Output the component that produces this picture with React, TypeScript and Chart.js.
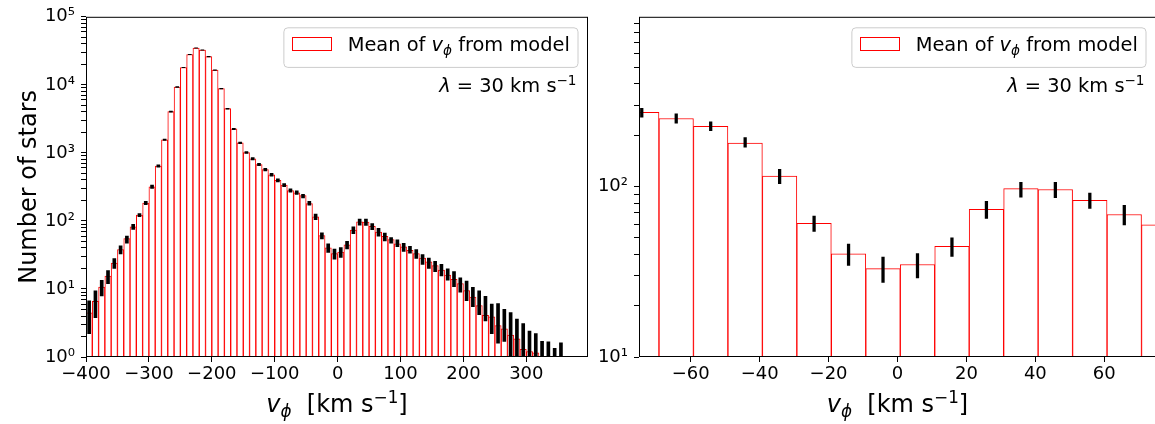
import React, { useEffect, useRef } from 'react';
import { Chart, registerables } from 'chart.js';

Chart.register(...registerables);

// ---------------- Left panel data ----------------
const leftBinCentres = [
  -395, -385, -375, -365, -355, -345, -335, -325, -315, -305,
  -295, -285, -275, -265, -255, -245, -235, -225, -215, -205,
  -195, -185, -175, -165, -155, -145, -135, -125, -115, -105,
  -95, -85, -75, -65, -55, -45, -35, -25, -15, -5,
  5, 15, 25, 35, 45, 55, 65, 75, 85, 95,
  105, 115, 125, 135, 145, 155, 165, 175, 185, 195,
  205, 215, 225, 235, 245, 255, 265, 275, 285, 295,
  305, 315, 325, 335, 345, 355,
];

// model histogram ("Mean of v_phi from model"), bins -400..320
const leftModel = [
  4.45, 6.6, 10.7, 15.5, 24, 38, 55, 82, 122, 183,
  318, 640, 1560, 4050, 9300, 18000, 27900, 34700, 32400, 26000,
  16500, 8800, 4470, 2250, 1400, 1010, 820, 675, 570, 477,
  395, 335, 280, 258, 235, 180, 115, 61, 40.3, 33,
  34.9, 44.6, 73.6, 97.2, 96.1, 83, 68.5, 59.6, 53, 46,
  41.5, 37, 33, 28.5, 25, 22, 19, 16, 13.8, 12,
  9.5, 7.6, 5.7, 4.1, 3.9, 2.9, 2.6, 2.1, 1.85, 1.3,
  1.2, 1.15,
];

// observed counts: lower / upper end of the error bars
const leftObsLow = [
  2.2, 3.8, 7.9, 12, 20, 32.6, 47, 75, 115, 173,
  300, 615, 1520, 3980, 9200, 17850, 27700, 34500, 32200, 25800,
  16350, 8700, 4400, 2200, 1360, 980, 790, 650, 545, 455,
  375, 318, 265, 245, 218, 170, 104, 54.5, 34.5, 27.4,
  29.1, 38.9, 65, 86.7, 86, 74.3, 59.6, 51, 47, 42,
  35.6, 33.7, 28, 23, 20, 17.9, 15.5, 13.5, 10.8, 9,
  6.7, 5.5, 4.2, 3.4, 2.2, 1.6, 1.7, 0.5, 0.5, 0.5,
  0.5, 0.5, 0.5, 0.5, 0.5, 0.5,
];
const leftObsHigh = [
  6.7, 9.4, 13.4, 18.7, 27.9, 43, 60, 89, 128, 194,
  335, 665, 1600, 4120, 9400, 18150, 28050, 34900, 32600, 26150,
  16600, 8880, 4530, 2300, 1440, 1045, 850, 700, 595, 500,
  415, 355, 297, 278, 246, 194, 126, 67, 46, 38.5,
  40.4, 50, 81.8, 106, 106, 91.4, 77.6, 66, 57, 52.6,
  47, 42.2, 37.8, 32, 28.5, 25.5, 23, 19.8, 18, 14.6,
  13.1, 10.6, 9.4, 7.8, 6, 6.1, 5, 4.5, 3.6, 3.1,
  2.4, 2.2, 1.7, 1.67, 1.34, 1.61,
];

const leftXTicks = [-400, -300, -200, -100, 0, 100, 200, 300];

// ---------------- Right panel data (zoom) ----------------
const rightBinCentres = [
  -74.2, -64.2, -54.2, -44.2, -34.2, -24.2, -14.2, -4.2,
  5.8, 15.8, 25.8, 35.8, 45.8, 55.8, 65.8, 75.8,
];
const rightModel = [
  272, 250.6, 225.5, 180, 115, 60.8, 40.3, 33,
  34.9, 44.6, 73.6, 97.2, 96.1, 83, 68.5, 59.6,
];
const rightObsLow = [
  255, 235, 213, 170, 104, 54.5, 34.5, 27.4,
  29.1, 38.9, 65, 86.7, 86, 74.3, 59.6,
];
const rightObsHigh = [
  288, 267, 240, 194, 126, 67, 46, 38.5,
  40.4, 50, 81.8, 106, 106, 91.4, 77.6,
];
const rightXTicks = [-60, -40, -20, 0, 20, 40, 60];

// ---------------- text helpers ----------------
type Part = { t: string; s: number; it?: boolean; dy?: number };
const FAMILY = '"DejaVu Sans"';
const TICK_FS = 18;
const LEG_FS = 19.4;
const LAB_FS = 24;

const fontOf = (p: Part) => `${p.it ? 'italic ' : ''}${p.s}px ${FAMILY}`;
function measureParts(ctx: CanvasRenderingContext2D, parts: Part[]) {
  let w = 0;
  for (const p of parts) {
    ctx.font = fontOf(p);
    w += ctx.measureText(p.t).width;
  }
  return w;
}
function drawParts(ctx: CanvasRenderingContext2D, parts: Part[], x: number, y: number) {
  let cx = x;
  ctx.textAlign = 'left';
  ctx.textBaseline = 'alphabetic';
  for (const p of parts) {
    ctx.font = fontOf(p);
    ctx.fillText(p.t, cx, y + (p.dy || 0));
    cx += ctx.measureText(p.t).width;
  }
}

const legendParts: Part[] = [
  { t: 'Mean of ', s: LEG_FS },
  { t: 'v', s: LEG_FS, it: true },
  { t: 'ϕ', s: LEG_FS * 0.7, it: true, dy: 4 },
  { t: ' from model', s: LEG_FS },
];
const lambdaParts: Part[] = [
  { t: 'λ', s: LEG_FS, it: true },
  { t: ' = 30 km s', s: LEG_FS },
  { t: '−1', s: LEG_FS * 0.7, dy: -7 },
];
const xTitleParts: Part[] = [
  { t: 'v', s: LAB_FS, it: true },
  { t: 'ϕ', s: LAB_FS * 0.7, it: true, dy: 5 },
  { t: '  [km s', s: LAB_FS },
  { t: '−1', s: LAB_FS * 0.7, dy: -9 },
  { t: ']', s: LAB_FS },
];

const SUP = ['⁰', '¹', '²', '³', '⁴', '⁵', '⁶'];
function logLabel(v: number) {
  const l = Math.log10(v);
  const r = Math.round(l);
  if (Math.abs(l - r) < 1e-9) return '10' + SUP[r];
  return '';
}
function isNiceLog(v: number) {
  const e = Math.floor(Math.log10(v) + 1e-9);
  const m = v / Math.pow(10, e);
  return Math.abs(m - Math.round(m)) < 1e-6;
}
const fmtX = (v: number) => (v < 0 ? '−' + Math.abs(v) : String(v));

function makeDecor() {
  return {
    id: 'decor',
    afterDraw(chart: any) {
      const { ctx, chartArea: a } = chart;
      ctx.save();
      // frame
      ctx.strokeStyle = 'black';
      ctx.lineWidth = 1;
      ctx.strokeRect(a.left + 0.5, a.top + 0.5, a.right - a.left - 1, a.bottom - a.top - 1);

      // legend box
      const textW = measureParts(ctx, legendParts);
      const boxW = 8.3 + 39.4 + 16.6 + textW + 7.7;
      const boxH = 39.6;
      const boxRight = a.right - 10.5;
      const boxTop = a.top + 10.5;
      const boxLeft = boxRight - boxW;
      ctx.beginPath();
      (ctx as any).roundRect(boxLeft + 0.5, boxTop + 0.5, boxW, boxH, 4);
      ctx.fillStyle = 'rgba(255,255,255,0.8)';
      ctx.fill();
      ctx.strokeStyle = '#cccccc';
      ctx.lineWidth = 1;
      ctx.stroke();
      // swatch
      const swX = boxLeft + 8.3;
      const swY = boxTop + 10;
      ctx.fillStyle = 'white';
      ctx.fillRect(swX, swY, 39.4, 13.3);
      ctx.strokeStyle = 'red';
      ctx.strokeRect(Math.round(swX) + 0.5, Math.round(swY) + 0.5, 39, 13);
      // text
      ctx.fillStyle = 'black';
      drawParts(ctx, legendParts, swX + 39.4 + 16.6, boxTop + 24);

      // lambda annotation
      const lw = measureParts(ctx, lambdaParts);
      drawParts(ctx, lambdaParts, a.right - 11.5 - lw, a.top + 75.5);

      // x axis title
      const xw = measureParts(ctx, xTitleParts);
      drawParts(ctx, xTitleParts, (a.left + a.right) / 2 - xw / 2, 412);
      ctx.restore();
    },
  };
}

type Spec = {
  centres: number[];
  model: number[];
  obsLow: number[];
  obsHigh: number[];
  xMin: number;
  xMax: number;
  xTicks: number[];
  yMin: number;
  yMax: number;
  yWidth: number;
  padRight: number;
  yTitle: boolean;
  errWidth: number;
};

function makeConfig(spec: Spec): any {
  const tickFont = { family: 'DejaVu Sans', size: TICK_FS };
  const grid = {
    display: true,
    drawOnChartArea: false,
    drawTicks: true,
    tickLength: 5,
    color: 'black',
    tickColor: 'black',
    tickWidth: 1,
    offset: false,
  };
  return {
    type: 'bar',
    data: {
      datasets: [
        {
          label: 'observed',
          data: spec.obsLow.map((lo, i) => ({ x: spec.centres[i], y: [lo, spec.obsHigh[i]] })),
          backgroundColor: 'black',
          borderWidth: 0,
          barThickness: spec.errWidth,
          grouped: false,
          order: 0,
          clip: 0,
        },
        {
          label: 'Mean of v_phi from model',
          data: spec.model.map((v, i) => ({ x: spec.centres[i], y: v })),
          backgroundColor: 'white',
          borderColor: 'red',
          borderWidth: 1,
          borderSkipped: false,
          barPercentage: 1,
          categoryPercentage: 1,
          grouped: false,
          order: 1,
          clip: 0,
        },
      ],
    },
    options: {
      responsive: false,
      maintainAspectRatio: false,
      animation: false,
      devicePixelRatio: 1,
      events: [],
      layout: { padding: { left: 0, top: 12, right: spec.padRight, bottom: 0 } },
      plugins: { legend: { display: false }, tooltip: { enabled: false } },
      scales: {
        x: {
          type: 'linear',
          min: spec.xMin,
          max: spec.xMax,
          offset: false,
          grid,
          border: { display: false },
          ticks: {
            color: 'black',
            font: tickFont,
            padding: 2,
            maxRotation: 0,
            autoSkip: false,
            includeBounds: false,
            callback: (v: number) => fmtX(v),
          },
          afterBuildTicks: (s: any) => {
            s.ticks = spec.xTicks.map((v) => ({ value: v }));
          },
          afterFit: (s: any) => {
            s.height = 67;
          },
        },
        y: {
          type: 'logarithmic',
          min: spec.yMin,
          max: spec.yMax,
          grid,
          border: { display: false },
          ticks: {
            color: 'black',
            font: tickFont,
            padding: 6,
            autoSkip: false,
            callback: (v: number) => logLabel(v),
          },
          afterBuildTicks: (s: any) => {
            s.ticks = s.ticks.filter((t: any) => t.value >= spec.yMin && t.value <= spec.yMax && isNiceLog(t.value));
          },
          afterFit: (s: any) => {
            s.width = spec.yWidth;
          },
          title: spec.yTitle
            ? {
                display: true,
                text: 'Number of stars',
                color: 'black',
                font: { family: 'DejaVu Sans', size: LAB_FS },
                padding: { top: 15, bottom: 0 },
              }
            : { display: false },
        },
      },
    },
    plugins: [makeDecor()],
  };
}

export default function App() {
  const leftRef = useRef<HTMLCanvasElement>(null);
  const rightRef = useRef<HTMLCanvasElement>(null);

  useEffect(() => {
    const left = new Chart(
      leftRef.current as HTMLCanvasElement,
      makeConfig({
        centres: leftBinCentres,
        model: leftModel,
        obsLow: leftObsLow,
        obsHigh: leftObsHigh,
        xMin: -400,
        xMax: 398,
        xTicks: leftXTicks,
        yMin: 1,
        yMax: 1e5,
        yWidth: 86,
        padRight: 2,
        yTitle: true,
        errWidth: 3,
      })
    );
    const right = new Chart(
      rightRef.current as HTMLCanvasElement,
      makeConfig({
        centres: rightBinCentres,
        model: rightModel,
        obsLow: rightObsLow,
        obsHigh: rightObsHigh,
        xMin: -75,
        xMax: 75,
        xTicks: rightXTicks,
        yMin: 10,
        yMax: 990,
        yWidth: 49,
        padRight: 14,
        yTitle: false,
        errWidth: 2.6,
      })
    );
    return () => {
      left.destroy();
      right.destroy();
    };
  }, []);

  return (
    <div
      style={{
        position: 'fixed',
        left: 0,
        top: 0,
        width: 1155,
        height: 424,
        overflow: 'hidden',
        background: 'white',
      }}
    >
      <canvas ref={leftRef} width={590} height={424} style={{ position: 'absolute', left: 0, top: 0 }} />
      <canvas ref={rightRef} width={580} height={424} style={{ position: 'absolute', left: 590, top: 0 }} />
    </div>
  );
}
